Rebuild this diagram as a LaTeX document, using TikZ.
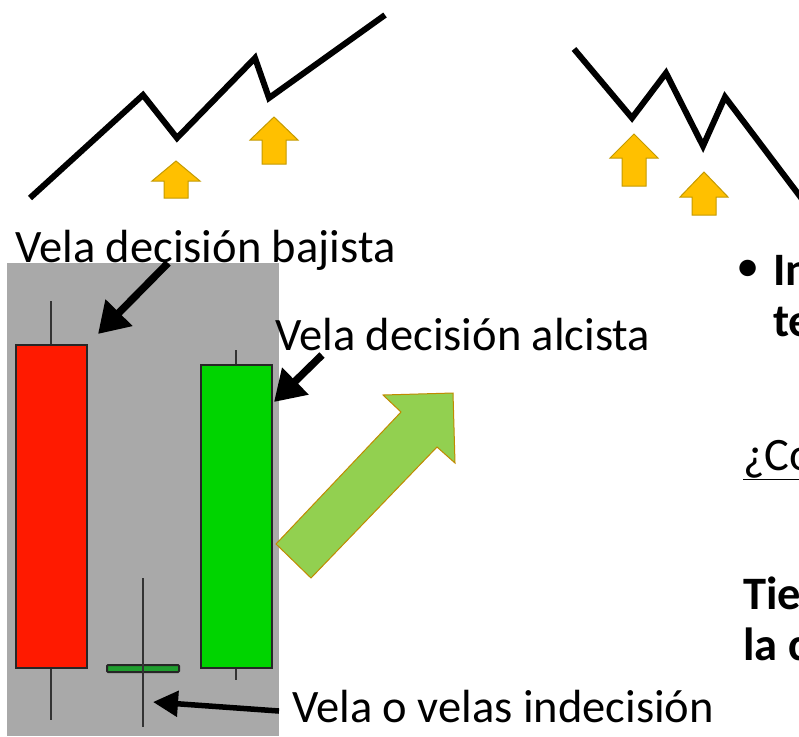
\documentclass[tikz,border=0pt]{standalone}
\usepackage{fontspec}
\setmainfont{Carlito}
\usetikzlibrary{arrows.meta}

\definecolor{gold}{HTML}{FFC000}
\definecolor{golddark}{HTML}{C49A00}
\definecolor{panel}{HTML}{A9A9A9}
\definecolor{bear}{HTML}{FF1A00}
\definecolor{bull}{HTML}{00D400}
\definecolor{doji}{HTML}{1F9E2E}
\definecolor{leaf}{HTML}{92D050}
\definecolor{leafedge}{HTML}{C08A00}

\begin{document}
\begin{tikzpicture}[x=1pt,y=-1pt]

\tikzset{trend/.style = {line width=6pt}}
\tikzset{goldarrow/.style = {fill=gold,draw=golddark,line width=1pt}}
\tikzset{candle/.style = {draw=black!85,line width=2pt,inner sep=0pt}}
\tikzset{wick/.style = {draw=black!80,line width=2pt}}
\tikzset{lbl/.style = {inner sep=0pt,anchor=base west,font=\fontsize{46.5}{54}\selectfont}}
\tikzset{bold/.style = {lbl,font=\fontsize{46.5}{54}\selectfont\bfseries}}
\tikzset{pointer/.style = {-{Triangle[length=30pt,width=36pt]},line width=7.5pt}}

\useasboundingbox (0,0) rectangle (799,736);

%trends
\draw[trend] (30,198) -- (143,95) -- (177,138) -- (255,58) -- (269,98) -- (385,15);
\draw[trend] (574,49) -- (632,118) -- (666,73) -- (703,146) -- (725,97) -- (805,203);

%gold arrows
\foreach \ax/\at/\ah/\ab in {176/161/181/198, 274/117/140/164, 634/134/158/186, 704/172/197/215}
  \draw[goldarrow] (\ax,\at) -- (\ax+24,\ah) -- (\ax+12,\ah) -- (\ax+12,\ab)
    -- (\ax-12,\ab) -- (\ax-12,\ah) -- (\ax-24,\ah) -- cycle;

%chart
\fill[panel] (7,263) rectangle (279,736);
\draw[wick] (51,301) -- (51,720);
\draw[wick] (236,350) -- (236,680);
\node[candle,fill=bear,minimum width=71pt,minimum height=323pt] (bear) at (51.5,506.5) {};
\node[candle,fill=bull,minimum width=71pt,minimum height=303pt] (bull) at (236.5,516.5) {};
\node[candle,fill=doji,rounded corners=1pt,minimum width=72pt,minimum height=7pt] (doji) at (143,668.5) {};
\draw[wick] (143,578) -- (143,727);

%big arrow
\draw[fill=leaf,draw=leafedge,line width=1pt] (276,544) -- (401,412) -- (383,395) -- (453,393)
  -- (455,463) -- (437,447) -- (311,578) -- cycle;

%labels
\node[lbl] (bajista) at (15,262) {Vela decisión bajista};
\node[lbl] (alcista) at (275,350) {Vela decisión alcista};
\node[lbl] (indecision) at (292,722) {Vela o velas indecisión};

%pointers
\coordinate (p1) at (168,263);
\coordinate (t1) at (98,334);
\coordinate (p2) at (322,355);
\coordinate (t2) at (274,402);
\coordinate (p3) at (279,711);
\coordinate (t3) at (153,702);
\draw[pointer] (p1) -- (t1);
\draw[pointer] (p2) -- (t2);
\draw[pointer,line width=5.5pt,-{Triangle[length=25pt,width=25pt]}] (p3) -- (t3);

%right text
\node[font=\fontsize{46.5}{54}\selectfont,inner sep=0pt] (dot) at (748,271) {\textbullet};
\node[bold] (in) at (773,285) {In};
\node[bold] (te) at (773,336) {te};
\node[lbl] (como) at (743,470) {\underline{¿Co}};
\node[bold] (tie) at (743,609) {Tie};
\node[bold] (lac) at (743,660) {la c};

\end{tikzpicture}
\end{document}
